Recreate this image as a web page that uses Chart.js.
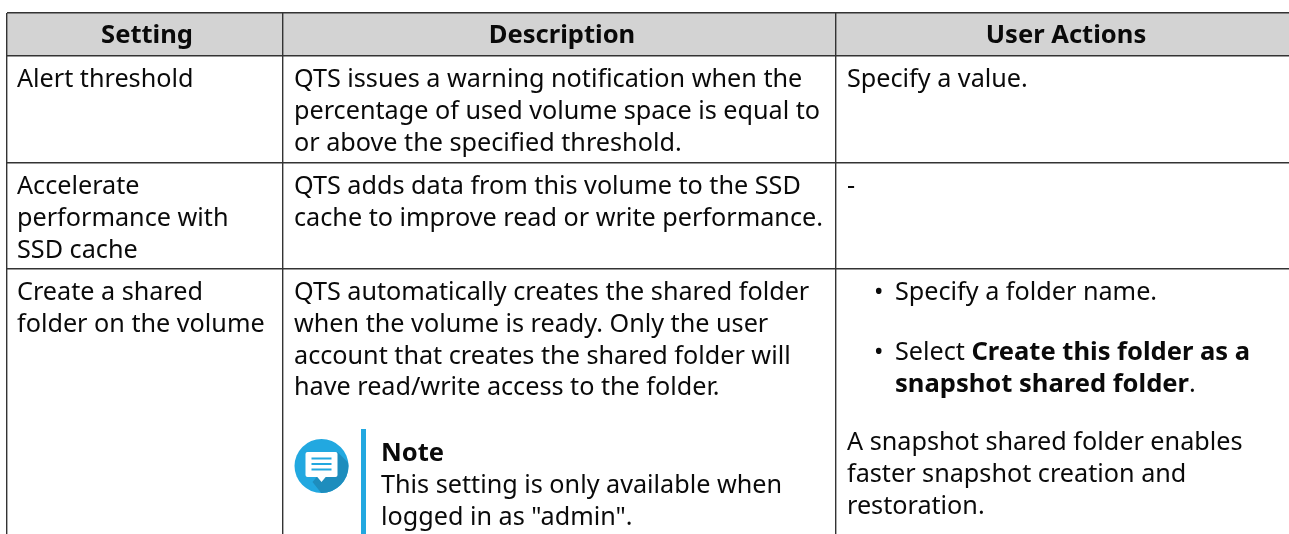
<!DOCTYPE html>
<html>
<head>
<meta charset="utf-8">
<title>Volume settings</title>
<script src="https://cdn.jsdelivr.net/npm/chart.js@4"></script>
<style>
    html, body { margin: 0; padding: 0; background: #fff; overflow: hidden; }
    #wrap { width: 1289px; height: 534px; }
</style>
</head>
<body>
<div id="wrap"><canvas id="tableChart" width="1289" height="534"></canvas></div>
<script>
// Table content
const columnLabels = ['Setting', 'Description', 'User Actions'];
const alertSetting = ['Alert threshold'];
const alertDescription = [
    'QTS issues a warning notification when the',
    'percentage of used volume space is equal to',
    'or above the specified threshold.'
];
const alertAction = ['Specify a value.'];
const cacheSetting = ['Accelerate', 'performance with', 'SSD cache'];
const cacheDescription = [
    'QTS adds data from this volume to the SSD',
    'cache to improve read or write performance.'
];
const cacheAction = ['-'];
const folderSetting = ['Create a shared', 'folder on the volume'];
const folderDescription = [
    'QTS automatically creates the shared folder',
    'when the volume is ready. Only the user',
    'account that creates the shared folder will',
    'have read/write access to the folder.'
];
const noteTitle = ['Note'];
const noteBody = ['This setting is only available when', 'logged in as "admin".'];
const bulletOne = ['Specify a folder name.'];
const bulletTwoPlain = 'Select ';
const bulletTwoBold = ['Create this folder as a', 'snapshot shared folder'];
const folderActionNote = [
    'A snapshot shared folder enables',
    'faster snapshot creation and',
    'restoration.'
];

// Table rulings, measured from the top left corner of the table
const columnEdges = [0, 276, 829];
const rowEdges = [0, 43, 150, 256];

const FONT = '"Noto Sans", sans-serif';
const TEXT_SIZE = 25.2;
const BOLD_SIZE = 25.55;
const LINE_STEP = 31.8;
const TEXT_COLOR = '#0a0a0a';

function setFont(ctx, weight) {
    const size = weight === 'bold' ? BOLD_SIZE : TEXT_SIZE;
    ctx.font = (weight || 'normal') + ' ' + size + 'px ' + FONT;
}

function drawLines(ctx, lines, x, firstBaseline, weight) {
    setFont(ctx, weight);
    lines.forEach((line, i) => {
        ctx.fillText(line, x, firstBaseline + i * LINE_STEP);
    });
}

function drawNoteIcon(ctx, cx, cy) {
    ctx.save();
    ctx.beginPath();
    ctx.arc(cx, cy, 27, 0, Math.PI * 2);
    ctx.fillStyle = '#22a8e0';
    ctx.fill();
    ctx.clip();
    // long shadow falling to the lower right
    ctx.fillStyle = '#1e8dbd';
    ctx.beginPath();
    ctx.moveTo(cx + 16, cy - 14);
    ctx.lineTo(cx + 40, cy + 10);
    ctx.lineTo(cx + 10, cy + 40);
    ctx.lineTo(cx - 9, cy + 16);
    ctx.closePath();
    ctx.fill();
    ctx.restore();

    // speech bubble
    ctx.fillStyle = '#ffffff';
    ctx.beginPath();
    ctx.roundRect(cx - 16, cy - 14, 32, 25, 2);
    ctx.fill();
    ctx.beginPath();
    ctx.moveTo(cx - 5, cy + 10);
    ctx.lineTo(cx, cy + 16);
    ctx.lineTo(cx + 5, cy + 10);
    ctx.closePath();
    ctx.fill();

    ctx.fillStyle = '#22a8e0';
    [-8.5, -3, 2.5].forEach(dy => ctx.fillRect(cx - 10, cy + dy, 20, 2));
}

// Writes the cell text and the note icon on top of the grid
const tableTextPlugin = {
    id: 'tableText',
    afterDraw(chart) {
        const ctx = chart.ctx;
        ctx.save();
        ctx.fillStyle = TEXT_COLOR;
        ctx.textBaseline = 'alphabetic';

        // Header row
        ctx.textAlign = 'center';
        setFont(ctx, 'bold');
        ctx.fillText(columnLabels[0], 147, 43);
        ctx.fillText(columnLabels[1], 562, 43);
        ctx.fillText(columnLabels[2], 1066, 43);
        ctx.textAlign = 'left';

        // Alert threshold row
        drawLines(ctx, alertSetting, 17, 87);
        drawLines(ctx, alertDescription, 294, 87);
        drawLines(ctx, alertAction, 847, 87);

        // SSD cache row
        drawLines(ctx, cacheSetting, 17, 194);
        drawLines(ctx, cacheDescription, 294, 194);
        drawLines(ctx, cacheAction, 847, 194);

        // Shared folder row
        drawLines(ctx, folderSetting, 17, 300);
        drawLines(ctx, folderDescription, 294, 300);
        drawLines(ctx, noteTitle, 381, 461, 'bold');
        drawLines(ctx, noteBody, 381, 493);

        setFont(ctx);
        ctx.fillText('•', 874, 300);
        ctx.fillText('•', 874, 360);
        drawLines(ctx, bulletOne, 895, 300);
        setFont(ctx);
        ctx.fillText(bulletTwoPlain, 895, 360);
        const plainWidth = ctx.measureText(bulletTwoPlain).width;
        setFont(ctx, 'bold');
        ctx.fillText(bulletTwoBold[0], 895 + plainWidth, 360);
        ctx.fillText(bulletTwoBold[1], 895, 392);
        const boldWidth = ctx.measureText(bulletTwoBold[1]).width;
        setFont(ctx);
        ctx.fillText('.', 895 + boldWidth, 392);
        drawLines(ctx, folderActionNote, 847, 450);

        drawNoteIcon(ctx, 321.5, 466);
        ctx.restore();
    }
};

new Chart(document.getElementById('tableChart').getContext('2d'), {
    type: 'scatter',
    data: {
        datasets: [
            {
                // Header band
                data: [{ x: 0, y: rowEdges[1] }, { x: 1282, y: rowEdges[1] }],
                showLine: true,
                borderWidth: 0,
                pointRadius: 0,
                backgroundColor: '#d3d3d3',
                fill: { value: rowEdges[0] }
            },
            {
                // Note rule
                data: [{ x: 356.5, y: 416 }, { x: 356.5, y: 521 }],
                showLine: true,
                borderColor: '#22a8e0',
                borderWidth: 5,
                pointRadius: 0
            }
        ]
    },
    options: {
        responsive: false,
        animation: false,
        layout: { padding: { left: 7, top: 13, right: 0, bottom: 0 } },
        plugins: {
            legend: { display: false },
            tooltip: { enabled: false }
        },
        scales: {
            x: {
                type: 'linear',
                min: 0,
                max: 1282,
                afterBuildTicks: axis => { axis.ticks = columnEdges.map(v => ({ value: v })); },
                ticks: { display: false },
                border: { display: false },
                grid: { color: '#333333', lineWidth: 1.4, drawTicks: false, z: 1 }
            },
            y: {
                type: 'linear',
                reverse: true,
                min: 0,
                max: 521,
                afterBuildTicks: axis => { axis.ticks = rowEdges.map(v => ({ value: v })); },
                ticks: { display: false },
                border: { display: false },
                grid: { color: '#333333', lineWidth: 1.4, drawTicks: false, z: 1 }
            }
        }
    },
    plugins: [tableTextPlugin]
});
</script>
</body>
</html>
